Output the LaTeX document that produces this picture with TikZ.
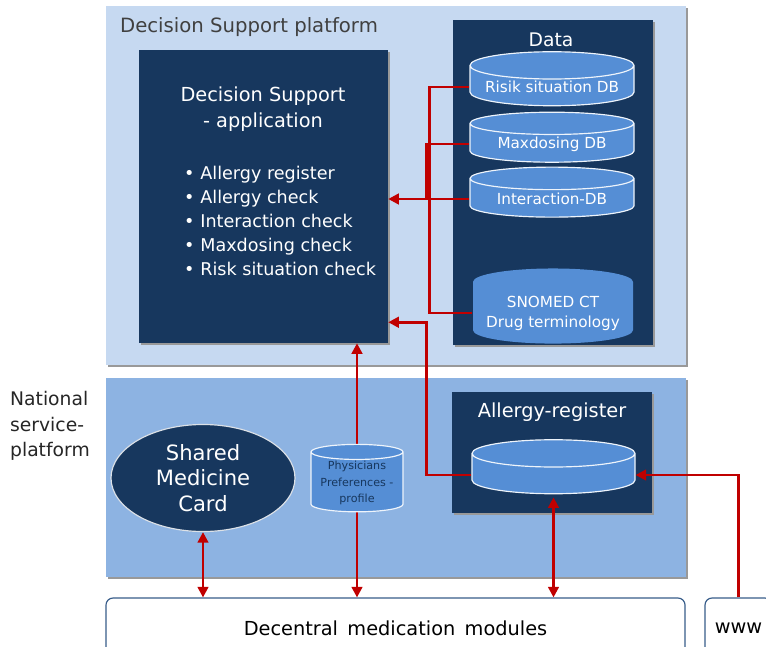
\documentclass[tikz,border=0pt]{standalone}
\usepackage{fontspec}
\setmainfont{DejaVu Sans}
\usetikzlibrary{shapes.geometric,arrows.meta,shadows,calc}
\definecolor{navy}{HTML}{17375E}
\definecolor{paleblue}{HTML}{C6D9F1}
\definecolor{midblue}{HTML}{8DB3E2}
\definecolor{dbblue}{HTML}{558ED5}
\definecolor{linkred}{HTML}{C00000}
\definecolor{framegray}{HTML}{385D8A}
\tikzset{platform/.style={rectangle, fill=#1, inner sep=0pt,
    drop shadow={shadow xshift=2pt, shadow yshift=-2pt, fill=black!40, opacity=1}}}
\tikzset{darkbox/.style={rectangle, fill=navy, inner sep=0pt,
    drop shadow={shadow xshift=2pt, shadow yshift=-2pt, fill=black!40, opacity=1}}}
\tikzset{db/.style={cylinder, shape border rotate=90, draw=white!90!dbblue, line width=1pt,
    fill=dbblue, text=white, inner sep=1pt}}
\tikzstyle{link}=[draw=linkred, line width=2.2pt]
\tikzstyle{modbox}=[rectangle, rounded corners=6pt, draw=framegray, line width=1pt, fill=white, inner sep=0pt]

\begin{document}
\begin{tikzpicture}[x=0.03cm, y=-0.03cm, >={Triangle[length=9pt,width=9pt]}]
\clip (0,0) rectangle (766,646);
\fill[white] (0,0) rectangle (766,646);
% platforms
\node[platform=paleblue, minimum width=17.4cm, minimum height=10.77cm] (DSP) at (396,185.5) {};
\node[platform=midblue, minimum width=17.4cm, minimum height=5.97cm] (NSP) at (396,477.5) {};
\node[anchor=west, text=black!75, font=\fontsize{16.8}{20}\selectfont] (DSPt) at (116,27) {Decision Support platform};
\node[anchor=north west, align=left, text=black!85, font=\fontsize{16}{22}\selectfont] (NSPt) at (6,387) {National\\service-\\platform};

% decision support application
\node[darkbox, minimum width=7.47cm, minimum height=8.79cm] (DSA) at (263.5,196.5) {};
\node[text=white, align=center, font=\fontsize{16.5}{22}\selectfont] (DSAt) at (263,109) {Decision Support\\- application};
\node[anchor=north west, text=white, align=left, font=\fontsize{15}{20.4}\selectfont] (DSAl) at (180,162)
  {\textbullet\hspace{5pt}Allergy register\\ \textbullet\hspace{5pt}Allergy check\\ \textbullet\hspace{5pt}Interaction check\\
   \textbullet\hspace{5pt}Maxdosing check\\ \textbullet\hspace{5pt}Risk situation check};

% data
\node[darkbox, minimum width=6cm, minimum height=9.75cm] (DB) at (553,182.5) {};
\node[text=white, font=\fontsize{16}{20}\selectfont] (DBt) at (551,40) {Data};
\node[db, aspect=0.2, minimum width=4.92cm, minimum height=1.62cm, font=\fontsize{13}{16}\selectfont] (D1) at (552,87) {Risik situation DB};
\node[db, aspect=0.2, minimum width=4.92cm, minimum height=1.5cm, font=\fontsize{13}{16}\selectfont] (D2) at (552,144) {Maxdosing DB};
\node[db, aspect=0.2, minimum width=4.92cm, minimum height=1.5cm, font=\fontsize{13}{16}\selectfont] (D3) at (552,199) {Interaction-DB};
\node[db, aspect=0.2, draw=none, inner sep=0pt, minimum width=4.8cm, minimum height=2.04cm, align=center, font=\fontsize{13}{17}\selectfont] (D4) at (553,313) {SNOMED CT\\Drug terminology};

% national services
\node[ellipse, fill=navy, draw=white!85!navy, line width=1pt, minimum width=5.52cm, minimum height=3cm,
  text=white, align=center, font=\fontsize{18}{22}\selectfont] (SMC) at (203,478) {Shared\\Medicine\\Card};
\node[darkbox, minimum width=6cm, minimum height=3.63cm] (AB) at (552,452.5) {};
\node[text=white, font=\fontsize{16.5}{20}\selectfont] (ABt) at (552,412) {Allergy-register};
\node[db, aspect=0.2, minimum width=4.89cm, minimum height=1.62cm, font=\fontsize{13}{16}\selectfont] (AR) at (553.5,475) {\phantom{Risik situation DB}};

% modules
\node[modbox, minimum width=17.37cm, minimum height=1.8cm, font=\fontsize{16.5}{20}\selectfont] (DM) at (395.5,628) {Decentral\, medication\, modules\hspace{18pt}};
\node[modbox, minimum width=2.01cm, minimum height=1.8cm, font=\fontsize{16.5}{20}\selectfont] (W) at (738.5,628) {www};

% connections
\coordinate (pp) at (357,483);
\draw[link,->] (D3.west) -- (D3.west -| DSA.east);
\draw[link] (D2.west) -- ++(-43,0) |- ($(D3.west)+(-43,0)$);
\draw[link] (D1.west) -- ++(-40,0) |- (D4.west);
\draw[link,->] (AR.west) -- ++(-45,0) |- ($(DSA.south east)+(0,-21)$);
\draw[link,->] (W.north) |- (AR.east);
\draw[link,<->] (SMC.south) -- (SMC.south |- DM.north);
\draw[link,<->] (pp |- DM.north) -- (pp |- DSA.south);
\draw[link,<->] (DM.north -| AR.south) -- ($(AR.south)+(0,3)$);

\node[db, aspect=0.2, minimum width=2.76cm, minimum height=1.71cm, text=navy, align=center,
  font=\fontsize{9.5}{14}\selectfont] (PP) at (pp) {Physicians\\Preferences -\\profile};
\end{tikzpicture}
\end{document}
